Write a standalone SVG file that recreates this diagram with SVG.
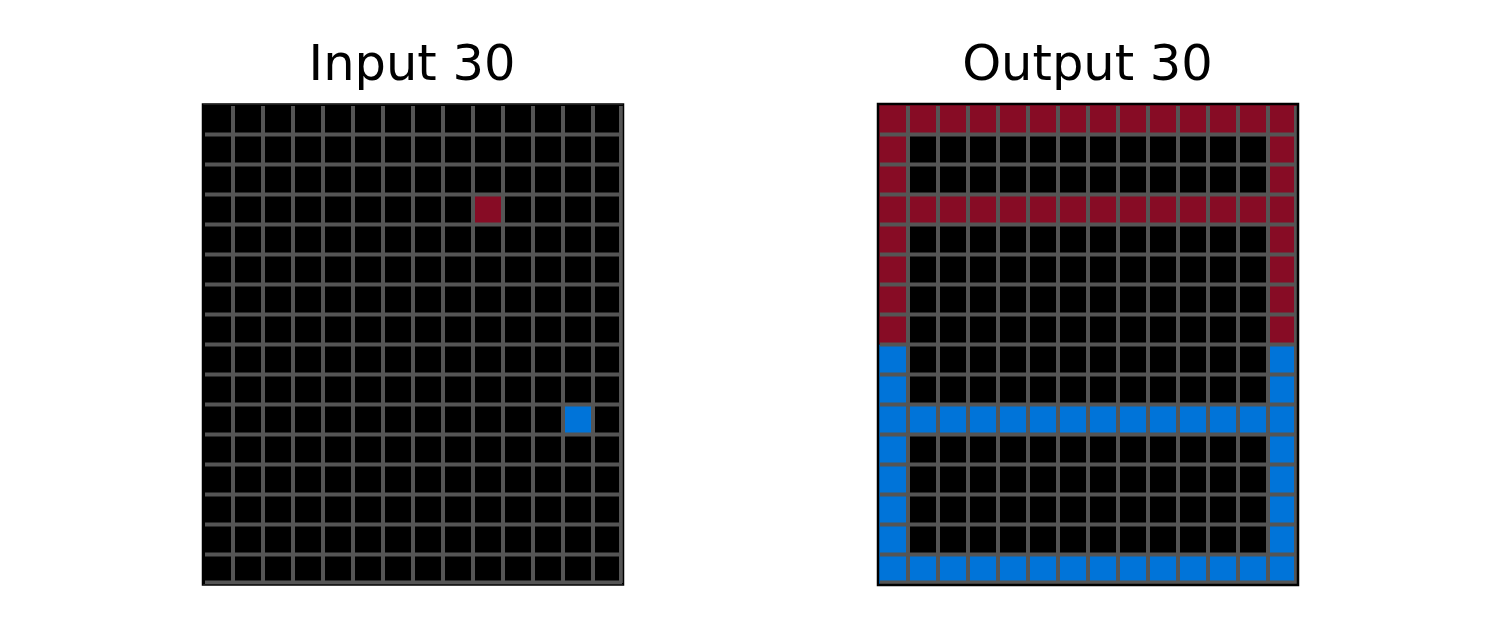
<svg xmlns="http://www.w3.org/2000/svg" width="1500" height="629" viewBox="0 0 1500 629">
<defs>
<style>
.t{font-family:"DejaVu Sans",sans-serif;font-size:49.5px;fill:#000;text-anchor:middle}
.g{stroke:#555555;stroke-width:4}
.r{fill:#870C25}
.b{fill:#0074D9}
</style>
</defs>
<rect width="1500" height="629" fill="#fff"/>
<g id="input">
<text class="t" x="412" y="80">Input 30</text>
<rect x="203" y="104.5" width="420" height="480" fill="#000"/>
<rect class="r" x="473" y="194.5" width="30" height="30"/>
<rect class="b" x="563" y="404.5" width="30" height="30"/>
<g class="g">
<path d="M233 106V583M263 106V583M293 106V583M323 106V583M353 106V583M383 106V583M413 106V583M443 106V583M473 106V583M503 106V583M533 106V583M563 106V583M593 106V583M621 106V583"/>
<path d="M205 134.5H622M205 164.5H622M205 194.5H622M205 224.5H622M205 254.5H622M205 284.5H622M205 314.5H622M205 344.5H622M205 374.5H622M205 404.5H622M205 434.5H622M205 464.5H622M205 494.5H622M205 524.5H622M205 554.5H622M205 582.5H622"/>
</g>
<rect x="202.5" y="104" width="421" height="481" fill="none" stroke="#000" stroke-width="1.5"/>
</g>
<g id="output">
<text class="t" x="1087.5" y="80">Output 30</text>
<rect x="878" y="104.5" width="420" height="480" fill="#000"/>
<rect class="r" x="878" y="104.5" width="420" height="30"/>
<rect class="r" x="878" y="194.5" width="420" height="30"/>
<rect class="r" x="878" y="104.5" width="30" height="240"/>
<rect class="r" x="1268" y="104.5" width="30" height="240"/>
<rect class="b" x="878" y="344.5" width="30" height="240"/>
<rect class="b" x="1268" y="344.5" width="30" height="240"/>
<rect class="b" x="878" y="404.5" width="420" height="30"/>
<rect class="b" x="878" y="554.5" width="420" height="30"/>
<g class="g">
<path d="M908 106V583M938 106V583M968 106V583M998 106V583M1028 106V583M1058 106V583M1088 106V583M1118 106V583M1148 106V583M1178 106V583M1208 106V583M1238 106V583M1268 106V583M1296 106V583"/>
<path d="M880 134.5H1297M880 164.5H1297M880 194.5H1297M880 224.5H1297M880 254.5H1297M880 284.5H1297M880 314.5H1297M880 344.5H1297M880 374.5H1297M880 404.5H1297M880 434.5H1297M880 464.5H1297M880 494.5H1297M880 524.5H1297M880 554.5H1297M880 582.5H1297"/>
</g>
<rect x="878" y="104" width="420" height="481" fill="none" stroke="#000" stroke-width="2.5"/>
</g>
</svg>
